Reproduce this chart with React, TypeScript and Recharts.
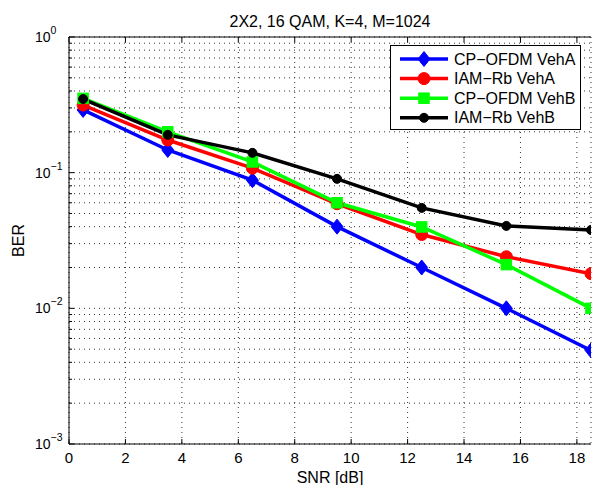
import React from 'react';
import { LineChart, Line, XAxis, YAxis, CartesianGrid, Legend, Label } from 'recharts';

const FONT = '"Liberation Sans", Arial, Helvetica, sans-serif';

const snr = [0.5, 3.5, 6.5, 9.5, 12.5, 15.5, 18.5];
const cpOfdmVehA = [0.29, 0.147, 0.088, 0.04, 0.02, 0.01, 0.0049];
const iamRbVehA = [0.315, 0.174, 0.108, 0.059, 0.035, 0.024, 0.018];
const cpOfdmVehB = [0.353, 0.2, 0.12, 0.06, 0.0398, 0.021, 0.01];
const iamRbVehB = [0.349, 0.19, 0.14, 0.09, 0.055, 0.0405, 0.0378];

const xTicks = [0, 2, 4, 6, 8, 10, 12, 14, 16, 18];
const yDecades = [0.001, 0.01, 0.1];
const yMantissas = [1, 2, 3, 4, 5, 6, 7, 8, 9];
const yTicks = [...yDecades.flatMap(d => yMantissas.map(m => m * d)), 1];

type Shape = 'diamond' | 'circle' | 'square' | 'dot';

const series: { key: string; name: string; color: string; shape: Shape }[] = [
  { key: 'cpA', name: 'CP\u2212OFDM VehA', color: '#0000ff', shape: 'diamond' },
  { key: 'iamA', name: 'IAM\u2212Rb VehA', color: '#ff0000', shape: 'circle' },
  { key: 'cpB', name: 'CP\u2212OFDM VehB', color: '#00ff00', shape: 'square' },
  { key: 'iamB', name: 'IAM\u2212Rb VehB', color: '#000000', shape: 'dot' },
];

const data = snr.map((x, i) => ({
  snr: x,
  cpA: cpOfdmVehA[i],
  iamA: iamRbVehA[i],
  cpB: cpOfdmVehB[i],
  iamB: iamRbVehB[i],
}));

function marker(shape: Shape, cx: number, cy: number, color: string, key?: any) {
  if (shape === 'diamond') {
    return (
      <polygon
        key={key}
        points={`${cx},${cy - 7.5} ${cx + 6},${cy} ${cx},${cy + 7.5} ${cx - 6},${cy}`}
        fill={color}
        stroke={color}
      />
    );
  }
  if (shape === 'square') {
    return <rect key={key} x={cx - 5.25} y={cy - 5.25} width={10.5} height={10.5} fill={color} stroke={color} />;
  }
  const r = shape === 'circle' ? 6 : 4.5;
  return <circle key={key} cx={cx} cy={cy} r={r} fill={color} stroke={color} />;
}

const isMajor = (v: number) => Math.abs(Math.log10(v) - Math.round(Math.log10(v))) < 1e-6;

const expText = (v: number) => {
  const e = Math.round(Math.log10(v));
  return e < 0 ? `\u2212${-e}` : `${e}`;
};

const LeftTick = (p: any) => {
  const v = p.payload.value;
  const major = isMajor(v);
  return (
    <g>
      <line x1={p.x} x2={p.x + (major ? 5 : 3)} y1={p.y} y2={p.y} stroke="#000" />
      {major && (
        <text x={p.x - 34} y={p.y + 5} fontSize={14} fontFamily={FONT} fill="#000">
          10
          <tspan dy={-8} fontSize={10.5}>{expText(v)}</tspan>
        </text>
      )}
    </g>
  );
};

const RightTick = (p: any) => {
  const major = isMajor(p.payload.value);
  return <line x1={p.x} x2={p.x - (major ? 5 : 3)} y1={p.y} y2={p.y} stroke="#000" />;
};

const BottomTick = (p: any) => (
  <g>
    <line x1={p.x} x2={p.x} y1={p.y} y2={p.y - 5} stroke="#000" />
    <text x={p.x} y={p.y + 19} textAnchor="middle" fontSize={15} fontFamily={FONT} fill="#000">
      {p.payload.value}
    </text>
  </g>
);

const TopTick = (p: any) => <line x1={p.x} x2={p.x} y1={p.y} y2={p.y + 5} stroke="#000" />;

const renderLegend = () => (
  <svg width={191} height={85} style={{ display: 'block' }}>
    <rect x={0.5} y={0.5} width={190} height={84} fill="#fff" stroke="#000" />
    {series.map((s, i) => {
      const y = 14 + i * 19.6;
      return (
        <g key={s.key}>
          <line x1={10} x2={58} y1={y} y2={y} stroke={s.color} strokeWidth={3.5} />
          {marker(s.shape, 34, y, s.color)}
          <text x={64} y={y + 5.5} fontSize={16} fontFamily={FONT} fill="#000">
            {s.name}
          </text>
        </g>
      );
    })}
  </svg>
);

export default function App() {
  return (
    <div>
      <style>{'body{margin:0;}'}</style>
      <LineChart
        width={593}
        height={485}
        data={data}
        margin={{ top: 0, right: 2, bottom: 0, left: 0 }}
        style={{ fontFamily: FONT, background: '#fff' }}
      >
        <CartesianGrid stroke="#333" strokeDasharray="1 4" />
        <XAxis
          dataKey="snr"
          type="number"
          domain={[0, 18.5]}
          ticks={xTicks}
          interval={0}
          height={41}
          tickSize={0}
          tickMargin={0}
          tickLine={false}
          axisLine={{ stroke: '#000' }}
          tick={BottomTick}
          allowDataOverflow
        >
          <Label
            content={(p: any) => (
              <text
                x={p.viewBox.x + p.viewBox.width / 2}
                y={p.viewBox.y + 39}
                textAnchor="middle"
                fontSize={16}
                fontFamily={FONT}
                fill="#000"
              >
                SNR [dB]
              </text>
            )}
          />
        </XAxis>
        <XAxis
          xAxisId="top"
          orientation="top"
          dataKey="snr"
          type="number"
          domain={[0, 18.5]}
          ticks={xTicks}
          interval={0}
          height={37}
          tickSize={0}
          tickMargin={0}
          tickLine={false}
          axisLine={{ stroke: '#000' }}
          tick={TopTick}
          allowDataOverflow
        >
          <Label
            content={(p: any) => (
              <text
                x={p.viewBox.x + p.viewBox.width / 2}
                y={p.viewBox.y + p.viewBox.height - 10}
                textAnchor="middle"
                fontSize={16}
                fontFamily={FONT}
                fill="#000"
              >
                2X2, 16 QAM, K=4, M=1024
              </text>
            )}
          />
        </XAxis>
        <YAxis
          scale="log"
          type="number"
          domain={[0.001, 1]}
          ticks={yTicks}
          interval={0}
          width={69}
          tickSize={0}
          tickMargin={0}
          tickLine={false}
          axisLine={{ stroke: '#000' }}
          tick={LeftTick}
          allowDataOverflow
        >
          <Label
            content={(p: any) => {
              const cx = p.viewBox.x + 18;
              const cy = p.viewBox.y + p.viewBox.height / 2;
              return (
                <text
                  x={cx}
                  y={cy}
                  transform={`rotate(-90, ${cx}, ${cy})`}
                  textAnchor="middle"
                  dominantBaseline="central"
                  fontSize={16}
                  fontFamily={FONT}
                  fill="#000"
                >
                  BER
                </text>
              );
            }}
          />
        </YAxis>
        <YAxis
          yAxisId="right"
          orientation="right"
          scale="log"
          type="number"
          domain={[0.001, 1]}
          ticks={yTicks}
          interval={0}
          width={0}
          tickSize={0}
          tickMargin={0}
          tickLine={false}
          axisLine={{ stroke: '#000' }}
          tick={RightTick}
          allowDataOverflow
        />
        {series.map(s => (
          <Line
            key={s.key}
            dataKey={s.key}
            name={s.name}
            type="linear"
            stroke={s.color}
            strokeWidth={3.5}
            isAnimationActive={false}
            dot={(p: any) => marker(s.shape, p.cx, p.cy, s.color, `${s.key}-${p.index}`)}
            activeDot={false}
          />
        ))}
        <Legend
          layout="vertical"
          align="center"
          verticalAlign="middle"
          content={renderLegend}
          wrapperStyle={{ left: 390, top: 45, width: 191, height: 85 }}
        />
      </LineChart>
    </div>
  );
}
